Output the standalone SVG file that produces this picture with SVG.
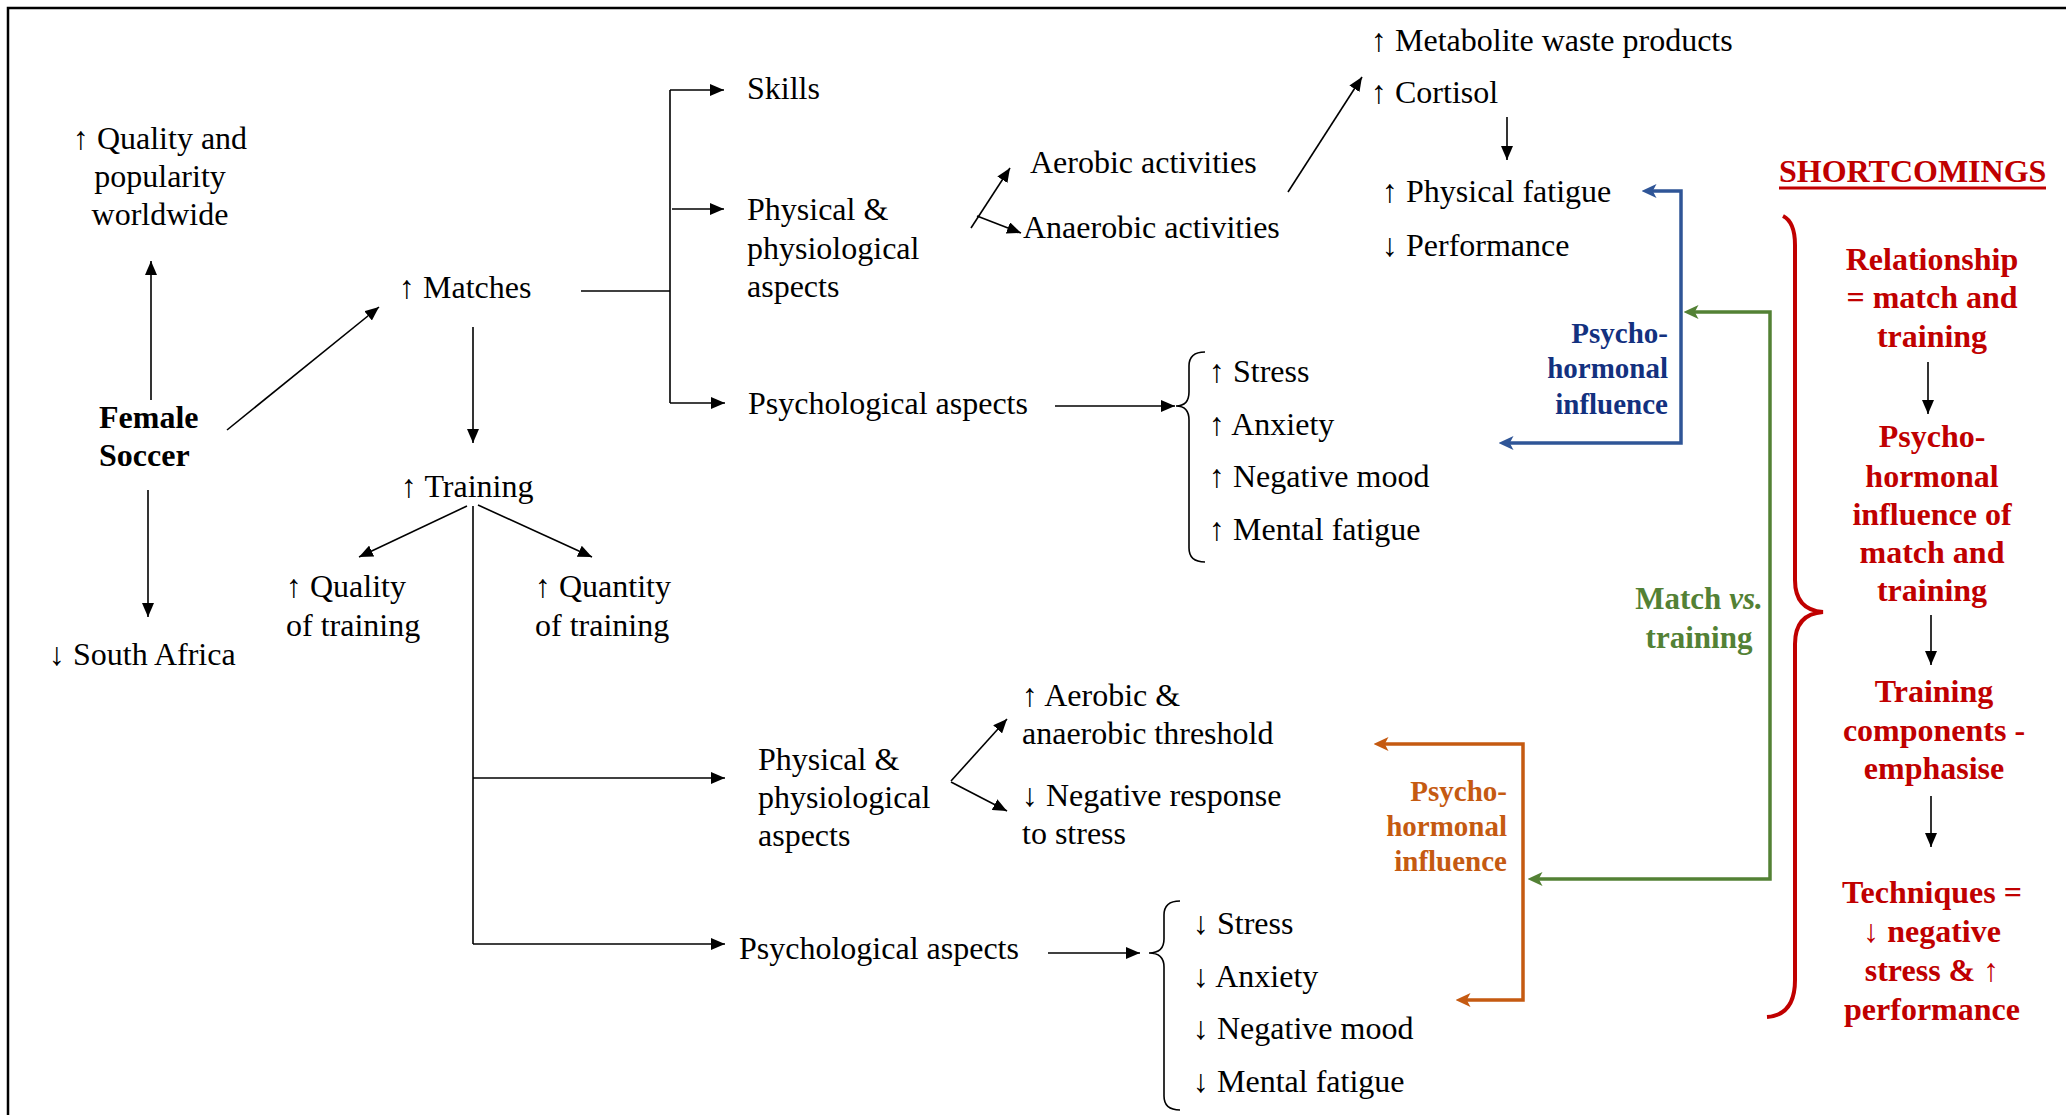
<svg xmlns="http://www.w3.org/2000/svg" width="2066" height="1115" viewBox="0 0 2066 1115">
<defs>
<style>
text{font-family:"Liberation Serif","Times New Roman","DejaVu Serif",serif;font-size:32px;fill:#000}
.b{font-weight:bold}
.mid{text-anchor:middle}
.end{text-anchor:end}
.blue{fill:#13317F;font-weight:bold;font-size:29px}
.orange{fill:#C55A11;font-weight:bold;font-size:29px}
.green{fill:#538135;font-weight:bold;font-size:31px}
.red{fill:#C00000;font-weight:bold;font-size:32px}
.ln{fill:none;stroke:#000;stroke-width:1.6}
.br{fill:none;stroke:#000;stroke-width:1.6}
.cb{fill:none;stroke:#2F5597;stroke-width:3.5}
.cg{fill:none;stroke:#538135;stroke-width:3.5}
.co{fill:none;stroke:#C55A11;stroke-width:3.5}
</style>
<marker id="ak" viewBox="0 0 10 10" refX="10" refY="5" markerUnits="userSpaceOnUse" markerWidth="14" markerHeight="12" preserveAspectRatio="none" orient="auto-start-reverse"><path d="M0,0L10,5L0,10z" fill="#000"/></marker>
<marker id="ab" viewBox="0 0 10 10" refX="7" refY="5" markerUnits="userSpaceOnUse" markerWidth="15" markerHeight="14" preserveAspectRatio="none" orient="auto-start-reverse"><path d="M0,0L10,5L0,10L2.5,5z" fill="#2F5597"/></marker>
<marker id="ag" viewBox="0 0 10 10" refX="7" refY="5" markerUnits="userSpaceOnUse" markerWidth="15" markerHeight="14" preserveAspectRatio="none" orient="auto-start-reverse"><path d="M0,0L10,5L0,10L2.5,5z" fill="#538135"/></marker>
<marker id="ao" viewBox="0 0 10 10" refX="7" refY="5" markerUnits="userSpaceOnUse" markerWidth="15" markerHeight="14" preserveAspectRatio="none" orient="auto-start-reverse"><path d="M0,0L10,5L0,10L2.5,5z" fill="#C55A11"/></marker>
</defs>
<rect width="2066" height="1115" fill="#fff"/>
<path d="M8,1115V8H2066" fill="none" stroke="#000" stroke-width="2.5"/>

<g id="connectors">
<line class="ln" x1="151" y1="400" x2="151" y2="261" marker-end="url(#ak)"/>
<line class="ln" x1="148" y1="490" x2="148" y2="617" marker-end="url(#ak)"/>
<line class="ln" x1="227" y1="430" x2="379" y2="307" marker-end="url(#ak)"/>
<line class="ln" x1="581" y1="291" x2="670" y2="291"/>
<line class="ln" x1="670" y1="90" x2="670" y2="403"/>
<line class="ln" x1="670" y1="90" x2="724" y2="90" marker-end="url(#ak)"/>
<line class="ln" x1="672" y1="209" x2="724" y2="209" marker-end="url(#ak)"/>
<line class="ln" x1="670" y1="403" x2="725" y2="403" marker-end="url(#ak)"/>
<line class="ln" x1="971" y1="228" x2="1010" y2="168" marker-end="url(#ak)"/>
<line class="ln" x1="977" y1="216" x2="1021" y2="233" marker-end="url(#ak)"/>
<line class="ln" x1="1288" y1="192" x2="1362" y2="77" marker-end="url(#ak)"/>
<line class="ln" x1="1507" y1="117" x2="1507" y2="160" marker-end="url(#ak)"/>
<line class="ln" x1="1055" y1="406" x2="1175" y2="406" marker-end="url(#ak)"/>
<path class="br" d="M1205,352Q1189,352 1189,366V392Q1189,406 1176,406Q1189,406 1189,420V548Q1189,562 1205,562"/>
<line class="ln" x1="473" y1="327" x2="473" y2="443" marker-end="url(#ak)"/>
<line class="ln" x1="467" y1="506" x2="359" y2="557" marker-end="url(#ak)"/>
<line class="ln" x1="478" y1="505" x2="592" y2="557" marker-end="url(#ak)"/>
<line class="ln" x1="473" y1="506" x2="473" y2="944"/>
<line class="ln" x1="473" y1="778" x2="725" y2="778" marker-end="url(#ak)"/>
<line class="ln" x1="473" y1="944" x2="725" y2="944" marker-end="url(#ak)"/>
<line class="ln" x1="951" y1="781" x2="1007" y2="719" marker-end="url(#ak)"/>
<line class="ln" x1="951" y1="782" x2="1007" y2="811" marker-end="url(#ak)"/>
<line class="ln" x1="1048" y1="953" x2="1140" y2="953" marker-end="url(#ak)"/>
<path class="br" d="M1180,901Q1164,901 1164,915V939Q1164,953 1149,953Q1164,953 1164,967V1096Q1164,1110 1180,1110"/>
<path class="cb" d="M1646,191H1681V443H1503" marker-start="url(#ab)" marker-end="url(#ab)"/>
<path class="cg" d="M1688,312H1770V879H1532" marker-start="url(#ag)" marker-end="url(#ag)"/>
<path class="co" d="M1378,744H1523V1000H1460" marker-start="url(#ao)" marker-end="url(#ao)"/>
<path d="M1783,216Q1795,222 1795,245V580Q1795,610 1823,612Q1795,614 1795,644V980Q1795,1015 1767,1017" fill="none" stroke="#C00000" stroke-width="4"/>
<line class="ln" x1="1928" y1="362" x2="1928" y2="414" marker-end="url(#ak)"/>
<line class="ln" x1="1931" y1="615" x2="1931" y2="665" marker-end="url(#ak)"/>
<line class="ln" x1="1931" y1="796" x2="1931" y2="847" marker-end="url(#ak)"/>
</g>

<g id="quality-popularity"><text class="mid" x="160" y="149">↑ Quality and</text><text class="mid" x="160" y="187">popularity</text><text class="mid" x="160" y="225">worldwide</text></g>
<g id="female-soccer"><text class="b" x="99" y="428">Female</text><text class="b" x="99" y="466">Soccer</text></g>
<g id="south-africa"><text x="49" y="665">↓ South Africa</text></g>
<g id="matches"><text x="399" y="298">↑ Matches</text></g>
<g id="skills"><text x="747" y="99">Skills</text></g>
<g id="match-physical"><text x="747" y="220">Physical &amp;</text><text x="747" y="259">physiological</text><text x="747" y="297">aspects</text></g>
<g id="match-psychological"><text x="748" y="414">Psychological aspects</text></g>
<g id="aerobic"><text x="1030" y="173">Aerobic activities</text></g>
<g id="anaerobic"><text x="1023" y="238">Anaerobic activities</text></g>
<g id="metabolite"><text x="1371" y="51">↑ Metabolite waste products</text></g>
<g id="cortisol"><text x="1371" y="103">↑ Cortisol</text></g>
<g id="fatigue-performance"><text x="1382" y="202">↑ Physical fatigue</text><text x="1382" y="256">↓ Performance</text></g>
<g id="match-psych-effects"><text x="1209" y="382">↑ Stress</text><text x="1209" y="435">↑ Anxiety</text><text x="1209" y="487">↑ Negative mood</text><text x="1209" y="540">↑ Mental fatigue</text></g>
<g id="training"><text x="401" y="497">↑ Training</text></g>
<g id="quality-training"><text x="286" y="597">↑ Quality</text><text x="286" y="636">of training</text></g>
<g id="quantity-training"><text x="535" y="597">↑ Quantity</text><text x="535" y="636">of training</text></g>
<g id="training-physical"><text x="758" y="770">Physical &amp;</text><text x="758" y="808">physiological</text><text x="758" y="846">aspects</text></g>
<g id="threshold"><text x="1022" y="706">↑ Aerobic &amp;</text><text x="1022" y="744">anaerobic threshold</text></g>
<g id="negative-response"><text x="1022" y="806">↓ Negative response</text><text x="1022" y="844">to stress</text></g>
<g id="training-psychological"><text x="739" y="959">Psychological aspects</text></g>
<g id="training-psych-effects"><text x="1193" y="934">↓ Stress</text><text x="1193" y="987">↓ Anxiety</text><text x="1193" y="1039">↓ Negative mood</text><text x="1193" y="1092">↓ Mental fatigue</text></g>
<g id="label-blue"><text class="blue end" x="1668" y="343">Psycho-</text><text class="blue end" x="1668" y="378">hormonal</text><text class="blue end" x="1668" y="414">influence</text></g>
<g id="label-green"><text class="green mid" x="1699" y="609">Match <tspan font-style="italic">vs.</tspan></text><text class="green mid" x="1699" y="648">training</text></g>
<g id="label-orange"><text class="orange end" x="1507" y="801">Psycho-</text><text class="orange end" x="1507" y="836">hormonal</text><text class="orange end" x="1507" y="871">influence</text></g>
<g id="shortcomings-title"><text class="red" x="1779" y="182">SHORTCOMINGS</text><line x1="1779" y1="188" x2="2046" y2="188" stroke="#C00000" stroke-width="3"/></g>
<g id="sc-relationship"><text class="red mid" x="1932" y="270">Relationship</text><text class="red mid" x="1932" y="308">= match and</text><text class="red mid" x="1932" y="347">training</text></g>
<g id="sc-psycho"><text class="red mid" x="1932" y="447">Psycho-</text><text class="red mid" x="1932" y="487">hormonal</text><text class="red mid" x="1932" y="525">influence of</text><text class="red mid" x="1932" y="563">match and</text><text class="red mid" x="1932" y="601">training</text></g>
<g id="sc-components"><text class="red mid" x="1934" y="702">Training</text><text class="red mid" x="1934" y="741">components -</text><text class="red mid" x="1934" y="779">emphasise</text></g>
<g id="sc-techniques"><text class="red mid" x="1932" y="903">Techniques =</text><text class="red mid" x="1932" y="942">↓ negative</text><text class="red mid" x="1932" y="981">stress &amp; ↑</text><text class="red mid" x="1932" y="1020">performance</text></g>
</svg>
